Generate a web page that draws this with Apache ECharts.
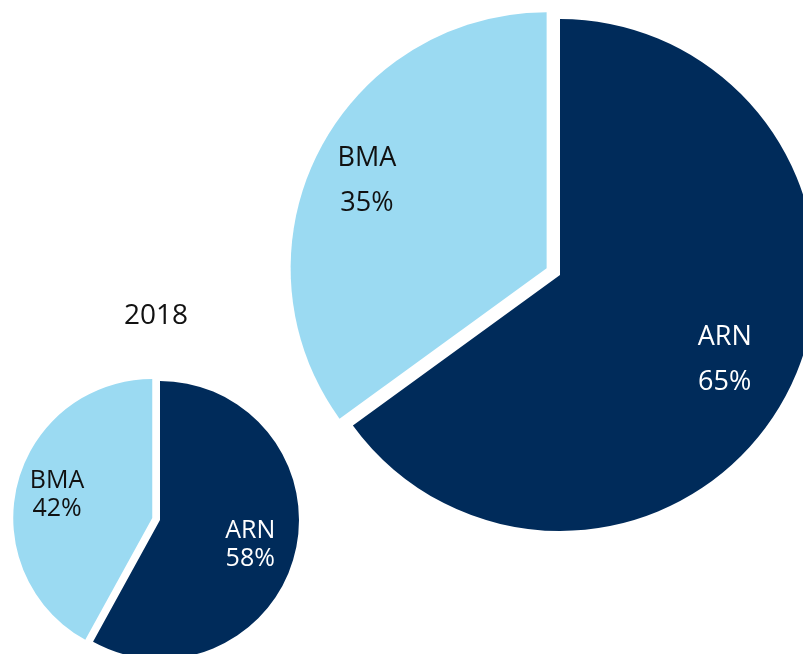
<!DOCTYPE html>
<html>
<head>
<meta charset="utf-8">
<script src="https://cdn.jsdelivr.net/npm/echarts@6/dist/echarts.min.js"></script>
<style>
  html, body { margin: 0; padding: 0; background: #fff; }
  #main { width: 803px; height: 654px; }
</style>
</head>
<body>
<div id="main"></div>
<script>
// data
var names = ["ARN", "BMA"];
var share2018 = [58, 42];
var shareNow = [65, 35];
var smallTitle = "2018";

var colors = ["#002b5a", "#9bdaf2"];
var textColors = ["#ffffff", "#111111"];
var font = "'Open Sans', 'Noto Sans', sans-serif";

// label nudges from the default inside spot
var bigOffsets = [[48, 25], [-63, -28]];
var smallOffsets = [[20, 7], [-25, -5]];

function buildData(values, offsets, size, lh) {
  return names.map(function (n, i) {
    var lbl = {
      color: textColors[i],
      fontSize: size,
      lineHeight: lh,
      offset: offsets[i]
    };
    return {
      name: n,
      value: values[i],
      selected: i === 1,
      itemStyle: { color: colors[i] },
      label: lbl,
      select: { label: lbl, itemStyle: { color: colors[i] } }
    };
  });
}

var chart = echarts.init(document.getElementById("main"));
chart.setOption({
  animation: false,
  graphic: [
    {
      type: "text",
      x: 156,
      y: 316,
      style: {
        text: smallTitle,
        align: "center",
        verticalAlign: "middle",
        fill: "#111",
        font: "28px " + font
      }
    }
  ],
  series: [
    {
      type: "pie",
      center: [560, 275],
      radius: 256,
      startAngle: 90,
      clockwise: true,
      selectedMode: "single",
      selectedOffset: 15,
      silent: true,
      label: {
        show: true,
        position: "inside",
        formatter: "{b}\n{c}%",
        fontFamily: font,
        align: "center"
      },
      labelLine: { show: false },
      data: buildData(shareNow, bigOffsets, 27, 45)
    },
    {
      type: "pie",
      center: [160, 520],
      radius: 139,
      startAngle: 90,
      clockwise: true,
      selectedMode: "single",
      selectedOffset: 8,
      silent: true,
      label: {
        show: true,
        position: "inside",
        formatter: "{b}\n{c}%",
        fontFamily: font,
        align: "center"
      },
      labelLine: { show: false },
      data: buildData(share2018, smallOffsets, 25, 28)
    }
  ]
});
</script>
</body>
</html>
